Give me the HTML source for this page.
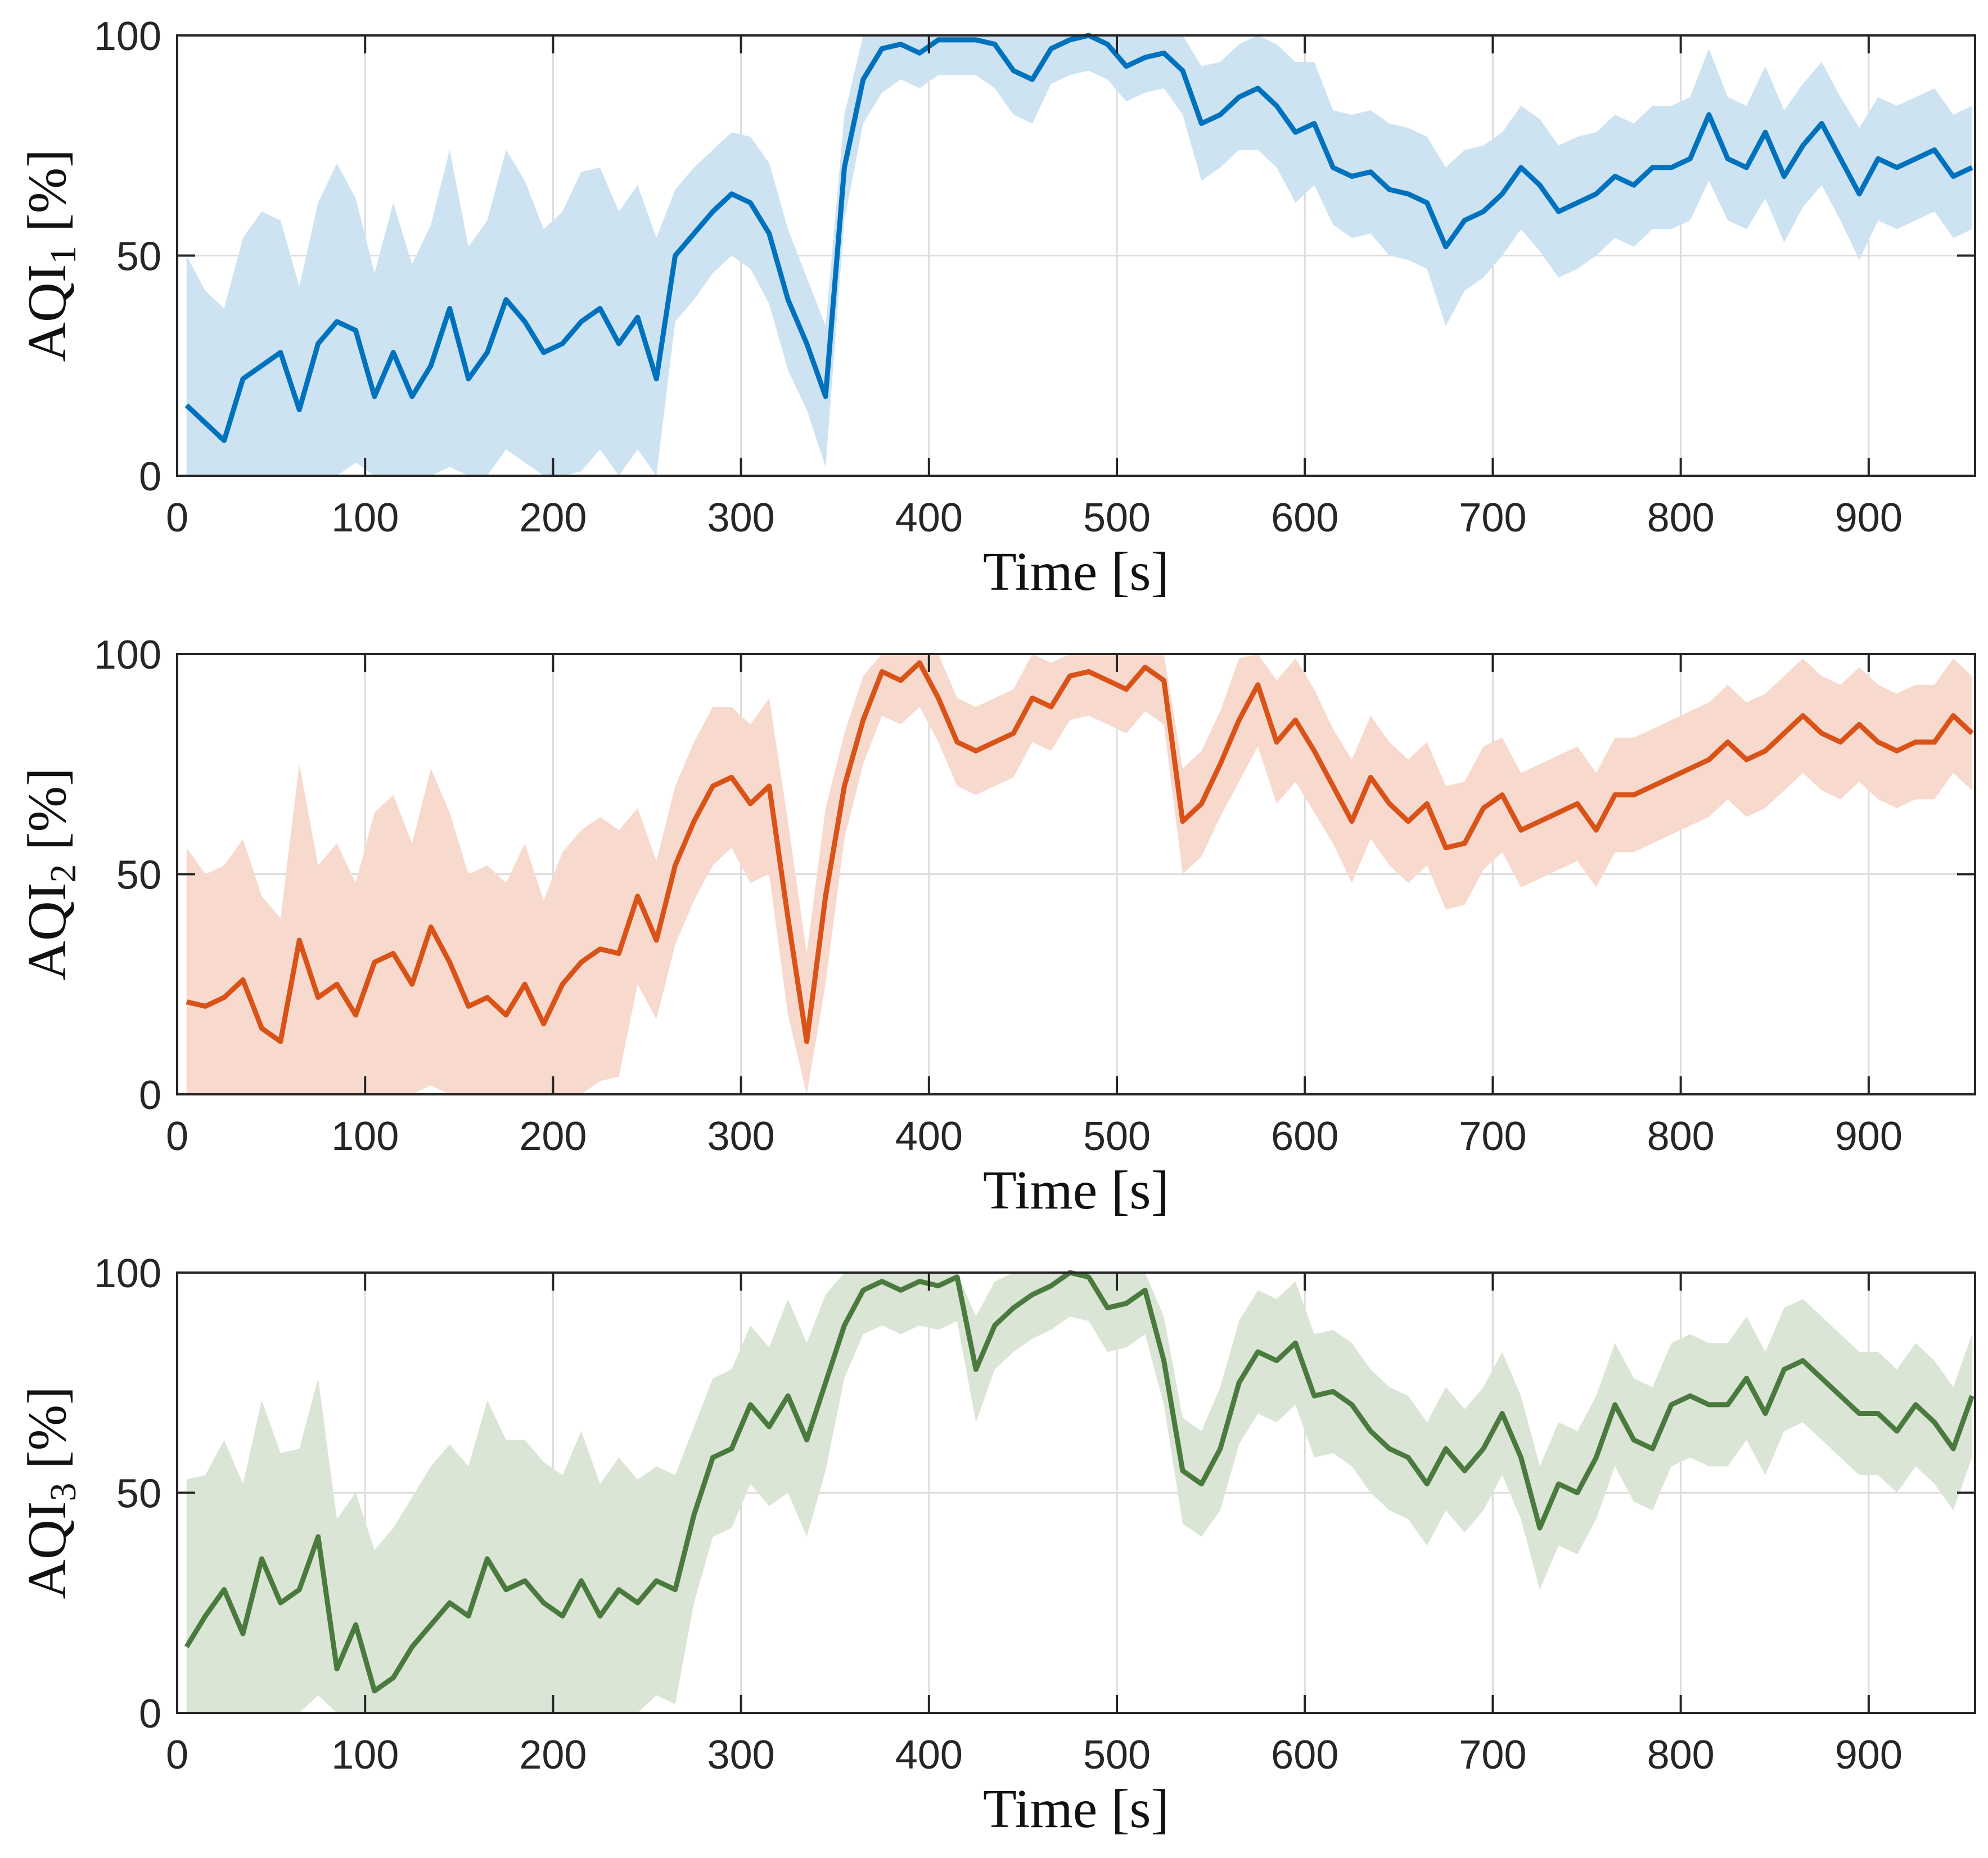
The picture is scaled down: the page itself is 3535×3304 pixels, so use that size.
<!DOCTYPE html>
<html><head><meta charset="utf-8"><style>
html,body{margin:0;padding:0;background:#fff;}
svg{display:block;}
</style></head><body>
<svg id="fig" xmlns="http://www.w3.org/2000/svg" width="3535" height="3304" viewBox="0 0 3535 3304"></svg>
<script>
const times = [];
for (let t = 5; t <= 955; t += 10) times.push(t);
const xTicks = [0,100,200,300,400,500,600,700,800,900];
const yTicks = [0,50,100];
const aqi1Mean = [16,12,8,22,25,28,15,30,35,33,18,28,18,25,38,22,28,40,35,28,30,35,38,30,36,22,50,55,60,64,62,55,40,30,18,70,90,97,98,96,99,99,99,98,92,90,97,99,100,98,93,95,96,92,80,82,86,88,84,78,80,70,68,69,65,64,62,52,58,60,64,70,66,60,62,64,68,66,70,70,72,82,72,70,78,68,75,80,72,64,72,70,72,74,68,70,74];
const aqi2Mean = [21,20,22,26,15,12,35,22,25,18,30,32,25,38,30,20,22,18,25,16,25,30,33,32,45,35,52,62,70,72,66,70,40,12,45,70,85,96,94,98,90,80,78,80,82,90,88,95,96,94,92,97,94,62,66,75,85,93,80,85,78,70,62,72,66,62,66,56,57,65,68,60,62,64,66,60,68,68,70,72,74,76,80,76,78,82,86,82,80,84,80,78,80,80,86,82];
const aqi3Mean = [15,22,28,18,35,25,28,40,10,20,5,8,15,20,25,22,35,28,30,25,22,30,22,28,25,30,28,45,58,60,70,65,72,62,75,88,96,98,96,98,97,99,78,88,92,95,97,100,99,92,93,96,80,55,52,60,75,82,80,84,72,73,70,64,60,58,52,60,55,60,68,58,42,52,50,58,70,62,60,70,72,70,70,76,68,78,80,76,72,68,68,64,70,66,60,72];
const aqi1Half = [34,30,30,32,35,30,28,32,36,30,28,34,30,32,36,30,30,34,32,28,30,34,32,30,30,32,15,15,14,14,15,16,16,15,16,12,10,10,8,8,8,8,8,10,10,10,8,8,8,8,8,8,8,10,13,12,12,14,14,16,14,13,14,14,15,15,15,18,16,15,14,14,15,15,15,14,14,14,14,14,14,15,14,14,15,15,14,14,14,15,14,14,14,14,14,14];
const aqi2Half = [35,30,30,32,30,28,40,30,32,30,34,36,32,36,34,30,30,30,32,28,30,30,30,28,20,18,18,18,18,16,18,20,22,20,20,12,10,10,10,10,10,10,10,10,10,10,10,10,10,10,10,10,10,12,12,12,14,14,14,14,14,13,14,14,14,14,14,14,14,14,13,13,13,13,13,13,13,13,13,13,13,13,13,13,13,13,13,13,13,13,13,13,13,13,13,13];
const aqi3Half = [38,32,34,34,36,34,32,36,34,30,32,34,34,36,36,34,36,34,32,32,32,34,30,30,28,26,26,20,18,18,18,18,22,22,20,12,10,10,10,10,10,10,12,10,10,10,10,10,10,10,10,10,10,12,12,14,14,14,14,14,14,14,14,14,14,14,14,14,14,14,14,14,14,14,14,14,14,14,14,14,14,14,14,14,14,14,14,14,14,14,14,14,14,14,14,14];
const panels = [
  {mean: aqi1Mean, half: aqi1Half, line:'#0072BD', band:'#cde3f2', sub:'1', top:63},
  {mean: aqi2Mean, half: aqi2Half, line:'#D95319', band:'#f7dacd', sub:'2', top:1163},
  {mean: aqi3Mean, half: aqi3Half, line:'#4A7A3E', band:'#dbe5d5', sub:'3', top:2263}
];
const NS='http://www.w3.org/2000/svg';
const svg=document.getElementById('fig');
const L=315,R=3512,H=783,XMAX=956.6;
function mk(tag,attrs,parent){const e=document.createElementNS(NS,tag);for(const k in attrs)e.setAttribute(k,attrs[k]);(parent||svg).appendChild(e);return e;}
const xs=t=>L+(t/XMAX)*(R-L);
panels.forEach((p,i)=>{
  const T=p.top,B=T+H;
  const ys=v=>B-(Math.max(0,Math.min(100,v))/100)*H;
  const g=mk('g',{});
  
  
  xTicks.forEach(t=>{const l=mk('line',{x1:xs(t),x2:xs(t),y1:T,y2:B,stroke:'#dcdcdc','stroke-width':3},g);
    });
  yTicks.forEach(v=>{const l=mk('line',{x1:L,x2:R,y1:ys(v),y2:ys(v),stroke:'#dcdcdc','stroke-width':3},g);
    });
  let up=times.map((t,j)=>xs(t)+','+ys(p.mean[j]+p.half[j]));
  let lo=times.map((t,j)=>xs(t)+','+ys(p.mean[j]-p.half[j])).reverse();
  const band=mk('polygon',{points:up.concat(lo).join(' '),fill:p.band},g);
  
  
  const line=mk('polyline',{points:times.map((t,j)=>xs(t)+','+ys(p.mean[j])).join(' '),fill:'none',stroke:p.line,'stroke-width':9,'stroke-linejoin':'round'},g);
  
  
  const box=mk('rect',{x:L,y:T,width:R-L,height:H,fill:'none',stroke:'#262626','stroke-width':4},g);
  
  xTicks.forEach(t=>{
    mk('line',{x1:xs(t),x2:xs(t),y1:B,y2:B-32,stroke:'#262626','stroke-width':4},g);
    mk('line',{x1:xs(t),x2:xs(t),y1:T,y2:T+32,stroke:'#262626','stroke-width':4},g);
    const tx=mk('text',{x:xs(t),y:B+99,'font-family':'Liberation Sans, sans-serif','font-size':72,'text-anchor':'middle',fill:'#262626'},g);
    tx.textContent=t;
  });
  yTicks.forEach(v=>{
    mk('line',{x1:L,x2:L+32,y1:ys(v),y2:ys(v),stroke:'#262626','stroke-width':4},g);
    mk('line',{x1:R,x2:R-32,y1:ys(v),y2:ys(v),stroke:'#262626','stroke-width':4},g);
    const tx=mk('text',{x:287,y:ys(v)+26,'font-family':'Liberation Sans, sans-serif','font-size':72,'text-anchor':'end',fill:'#262626'},g);
    tx.textContent=v;
  });
  const xl=mk('text',{x:(L+R)/2,y:B+203,'font-family':'Liberation Serif, serif','font-size':98,'text-anchor':'middle',fill:'#111'},g);
  xl.textContent='Time [s]';
  const cy=T+H/2;
  const yl=mk('text',{x:0,y:0,transform:'translate(116,'+cy+') rotate(-90)','font-family':'Liberation Serif, serif','font-size':98,'text-anchor':'middle',fill:'#111'},g);
  
  const a=mk('tspan',{},yl);a.textContent='AQI';
  const s=mk('tspan',{dy:18,'font-size':66},yl);s.textContent=p.sub;
  const r=mk('tspan',{dy:-18},yl);r.textContent=' [%]';
});
</script>
</body></html>
